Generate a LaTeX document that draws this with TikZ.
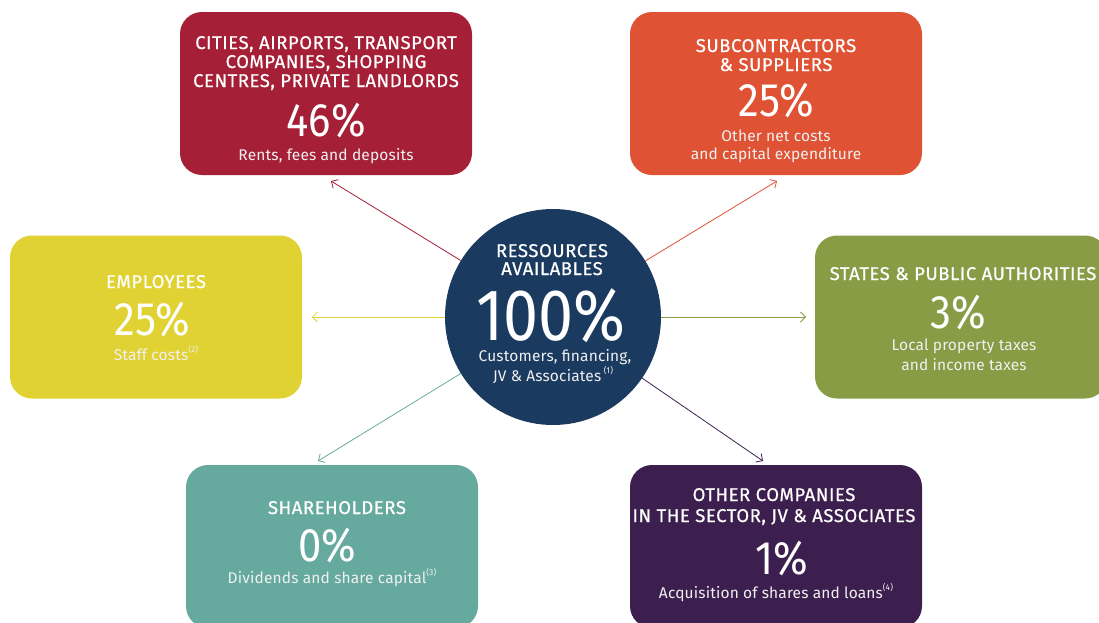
\documentclass[tikz,border=0pt]{standalone}
\usepackage{fontspec}
\setmainfont{Fira Sans}
\newfontfamily\hdfont[FakeBold=0.6,LetterSpace=3]{Fira Sans}
\newfontfamily\pcfont[FakeStretch=0.89]{Fira Sans}
\newfontfamily\bigfont[FakeStretch=0.86]{Fira Sans}
\newfontfamily\sbfont[LetterSpace=1]{Fira Sans}
\usetikzlibrary{arrows.meta}
\definecolor{cRed}{HTML}{A51F36}
\definecolor{cOrange}{HTML}{DF5233}
\definecolor{cYellow}{HTML}{E1D233}
\definecolor{cGreen}{HTML}{879C44}
\definecolor{cTeal}{HTML}{66AA9F}
\definecolor{cPurple}{HTML}{3C1F4E}
\definecolor{cNavy}{HTML}{1A3A60}
\tikzset{
  box/.style={rounded corners=22pt, minimum width=292pt, minimum height=163pt, inner sep=0pt, draw=none},
  hd/.style={text=white, anchor=base, inner sep=0pt, text depth=0pt, font=\hdfont\fontsize{18.5}{19}\selectfont},
  pc/.style={text=white, anchor=base, inner sep=0pt, text depth=0pt, font=\pcfont\fontsize{47}{47}\selectfont},
  big/.style={text=white, anchor=base, inner sep=0pt, text depth=0pt, font=\bigfont\fontsize{73}{73}\selectfont},
  sb/.style={text=white!94!black, anchor=base, inner sep=0pt, font=\sbfont\fontsize{15.5}{18}\selectfont},
  arr/.style={line width=0.8pt, -{Straight Barb[length=5pt,width=10pt,line width=0.8pt]}}
}
\newcommand{\fn}[1]{\raisebox{0.5em}{\fontsize{8.5}{8.5}\selectfont(#1)}}
\begin{document}
\begin{tikzpicture}[x=1pt,y=-1pt]
\useasboundingbox (0,0) rectangle (1099,622);
% boxes
\node[box, fill=cRed] (bRed) at (326,93.5) {};
\node[box, fill=cOrange] (bOrange) at (776,93.5) {};
\node[box, fill=cYellow] (bYellow) at (156,317) {};
\node[box, fill=cGreen] (bGreen) at (961,317) {};
\node[box, fill=cTeal] (bTeal) at (332,546.5) {};
\node[box, fill=cPurple] (bPurple) at (776,546.5) {};
% circle
\node[circle, fill=cNavy, minimum size=216pt, inner sep=0pt] (c) at (553,317) {};
% arrow ends
\coordinate (eRed) at (331,181);
\coordinate (eOrange) at (777,181);
\coordinate (eYellow) at (312,317);
\coordinate (eGreen) at (806,317);
\coordinate (eTeal) at (318,461);
\coordinate (ePurple) at (763,461);
\draw[arr, cRed] (c) -- (eRed);
\draw[arr, cOrange] (c) -- (eOrange);
\draw[arr, cYellow] (c) -- (eYellow);
\draw[arr, cGreen] (c) -- (eGreen);
\draw[arr, cTeal] (c) -- (eTeal);
\draw[arr, cPurple] (c) -- (ePurple);
% red box text
\node[hd] (r1) at (326,49) {CITIES, AIRPORTS, TRANSPORT};
\node[hd] (r2) at (326,68) {COMPANIES, SHOPPING};
\node[hd] (r3) at (326,87) {CENTRES, PRIVATE LANDLORDS};
\node[pc] (r4) at (326,136) {46\%};
\node[sb] (r5) at (326,160) {Rents, fees and deposits};
% orange
\node[hd] (o1) at (776,52) {SUBCONTRACTORS};
\node[hd] (o2) at (776,71) {\&~SUPPLIERS};
\node[pc] (o3) at (776,116) {25\%};
\node[sb] (o4) at (776,141) {Other net costs};
\node[sb] (o5) at (776,159) {and capital expenditure};
% yellow
\node[hd] (y1) at (156,288) {EMPLOYEES};
\node[pc] (y2) at (152,335) {25\%};
\node[sb] (y3) at (156,360) {Staff costs\fn{2}};
% green
\node[hd] (g1) at (963,280) {STATES \& PUBLIC AUTHORITIES};
\node[pc] (g2) at (958,328) {3\%};
\node[sb] (g3) at (964,350) {Local property taxes};
\node[sb] (g4) at (964,370) {and income taxes};
% teal
\node[hd] (t1) at (337,514) {SHAREHOLDERS};
\node[pc] (t2) at (327,561) {0\%};
\node[sb] (t3) at (332,583) {Dividends and share capital\fn{3}};
% purple
\node[hd] (p1) at (774,501) {OTHER COMPANIES};
\node[hd] (p2) at (774,522) {IN THE SECTOR, JV \& ASSOCIATES};
\node[pc] (p3) at (782,574) {1\%};
\node[sb] (p4) at (776,598) {Acquisition of shares and loans\fn{4}};
% circle text
\node[hd] (c1) at (552,257) {RESSOURCES};
\node[hd] (c2) at (552,275) {AVAILABLES};
\node[big] (c3) at (551,340) {100\%};
\node[sb] (c4) at (555,361) {Customers, financing,};
\node[sb] (c5) at (553,381) {JV \& Associates\,\fn{1}};
\end{tikzpicture}
\end{document}
